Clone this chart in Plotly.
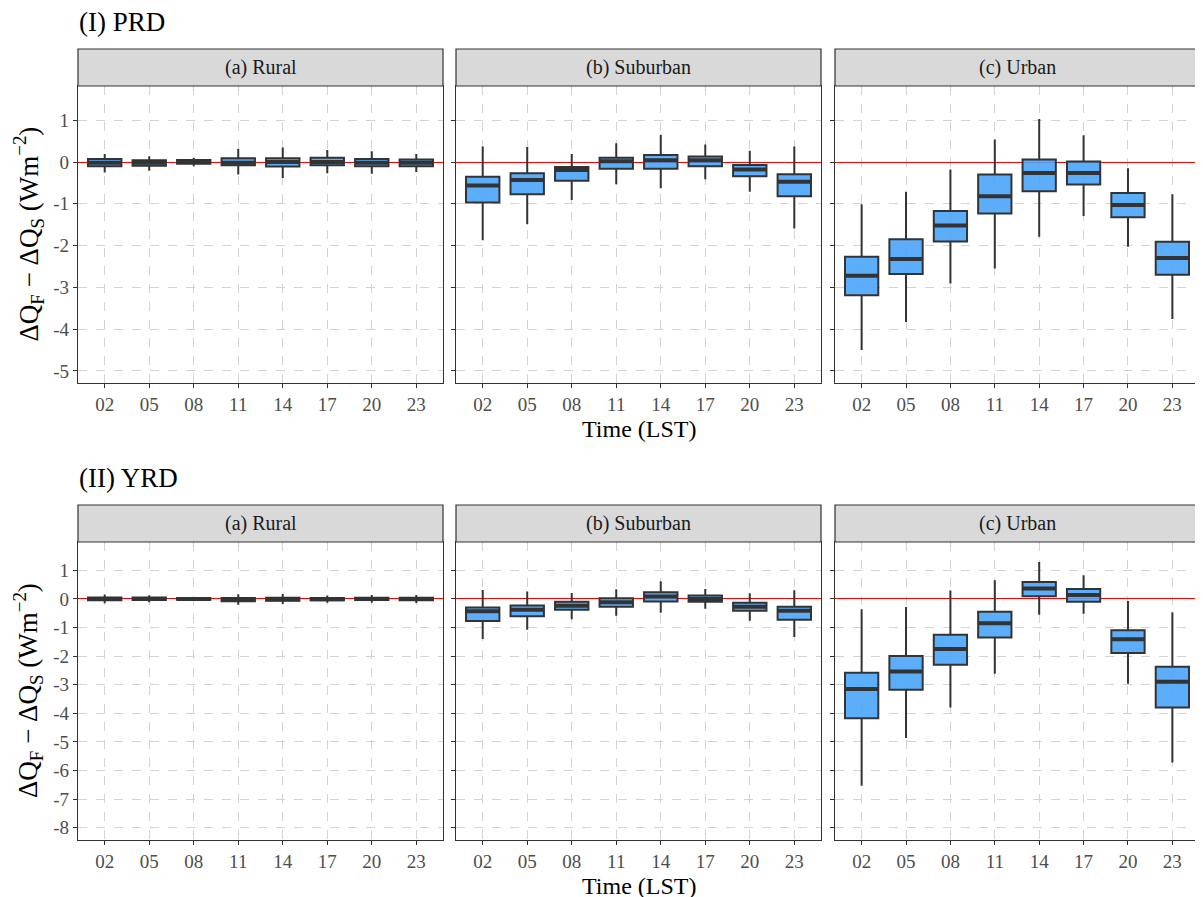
import plotly.graph_objects as go

hours = ["02", "05", "08", "11", "14", "17", "20", "23"]
xpos = list(range(len(hours)))
panel_titles = ["(a) Rural", "(b) Suburban", "(c) Urban"]
row_titles = ["(I) PRD", "(II) YRD"]
y_ticks_prd = [1, 0, -1, -2, -3, -4, -5]
y_ticks_yrd = [1, 0, -1, -2, -3, -4, -5, -6, -7, -8]

# PRD rural
prd_rural_low = [-0.25, -0.21, -0.10, -0.30, -0.38, -0.27, -0.28, -0.24]
prd_rural_q1 = [-0.10, -0.09, -0.04, -0.08, -0.11, -0.08, -0.10, -0.10]
prd_rural_med = [-0.02, -0.02, 0.01, -0.02, 0.00, 0.00, -0.02, -0.02]
prd_rural_q3 = [0.07, 0.04, 0.05, 0.09, 0.09, 0.10, 0.07, 0.06]
prd_rural_high = [0.19, 0.14, 0.10, 0.31, 0.35, 0.29, 0.26, 0.19]

# PRD suburban
prd_sub_low = [-1.87, -1.49, -0.91, -0.53, -0.63, -0.41, -0.71, -1.59]
prd_sub_q1 = [-0.97, -0.77, -0.45, -0.16, -0.16, -0.10, -0.34, -0.82]
prd_sub_med = [-0.56, -0.43, -0.19, 0.02, 0.04, 0.04, -0.18, -0.47]
prd_sub_q3 = [-0.35, -0.27, -0.12, 0.10, 0.17, 0.13, -0.07, -0.29]
prd_sub_high = [0.37, 0.36, 0.19, 0.45, 0.65, 0.42, 0.27, 0.37]

# PRD urban
prd_urb_low = [-4.50, -3.83, -2.91, -2.55, -1.79, -1.29, -2.03, -3.76]
prd_urb_q1 = [-3.19, -2.68, -1.90, -1.23, -0.70, -0.54, -1.32, -2.70]
prd_urb_med = [-2.72, -2.32, -1.52, -0.82, -0.26, -0.26, -1.03, -2.30]
prd_urb_q3 = [-2.27, -1.85, -1.17, -0.30, 0.06, 0.01, -0.74, -1.91]
prd_urb_high = [-1.01, -0.71, -0.18, 0.54, 1.03, 0.64, -0.15, -0.77]

# YRD rural
yrd_rural_low = [-0.15, -0.12, -0.05, -0.20, -0.18, -0.13, -0.13, -0.14]
yrd_rural_q1 = [-0.05, -0.04, -0.03, -0.08, -0.06, -0.05, -0.04, -0.05]
yrd_rural_med = [0.00, 0.00, 0.00, -0.02, -0.01, -0.01, 0.00, 0.00]
yrd_rural_q3 = [0.05, 0.05, 0.03, 0.03, 0.04, 0.03, 0.04, 0.04]
yrd_rural_high = [0.15, 0.13, 0.05, 0.16, 0.17, 0.12, 0.14, 0.14]

# YRD suburban
yrd_sub_low = [-1.40, -1.08, -0.71, -0.59, -0.48, -0.34, -0.76, -1.33]
yrd_sub_q1 = [-0.77, -0.61, -0.38, -0.27, -0.09, -0.10, -0.41, -0.73]
yrd_sub_med = [-0.43, -0.38, -0.24, -0.12, 0.08, 0.00, -0.27, -0.41]
yrd_sub_q3 = [-0.30, -0.23, -0.10, 0.02, 0.23, 0.12, -0.13, -0.27]
yrd_sub_high = [0.31, 0.26, 0.21, 0.34, 0.62, 0.35, 0.20, 0.30]

# YRD urban
yrd_urb_low = [-6.53, -4.86, -3.80, -2.62, -0.55, -0.52, -2.97, -5.72]
yrd_urb_q1 = [-4.17, -3.18, -2.30, -1.35, 0.09, -0.10, -1.89, -3.80]
yrd_urb_med = [-3.15, -2.54, -1.75, -0.85, 0.36, 0.14, -1.41, -2.90]
yrd_urb_q3 = [-2.58, -2.00, -1.25, -0.45, 0.59, 0.35, -1.10, -2.37]
yrd_urb_high = [-0.36, -0.28, 0.29, 0.65, 1.29, 0.83, -0.07, -0.47]

panels = [
    (prd_rural_low, prd_rural_q1, prd_rural_med, prd_rural_q3, prd_rural_high),
    (prd_sub_low, prd_sub_q1, prd_sub_med, prd_sub_q3, prd_sub_high),
    (prd_urb_low, prd_urb_q1, prd_urb_med, prd_urb_q3, prd_urb_high),
    (yrd_rural_low, yrd_rural_q1, yrd_rural_med, yrd_rural_q3, yrd_rural_high),
    (yrd_sub_low, yrd_sub_q1, yrd_sub_med, yrd_sub_q3, yrd_sub_high),
    (yrd_urb_low, yrd_urb_q1, yrd_urb_med, yrd_urb_q3, yrd_urb_high),
]

# page body has an 8px margin, so the figure is drawn offset by 8px
OFF = 8
W, H = 1203 - OFF, 897 - OFF
FONT = "Liberation Serif"
BOX_FILL = "rgba(75,165,250,0.9)"
DARK = "#333333"
BOX_W = 0.75

# layout geometry in screen pixels (converted to figure pixels below)
col_px = [(78, 443), (456, 821), (835, 1199)]
row_px = [(86, 383), (542, 840)]
strip_h = 37
y_ranges = [[-5.29, 1.82], [-8.43, 1.99]]


def fx(px):
    return (px - OFF) / W


def fy(py):
    return 1 - (py - OFF) / H


fig = go.Figure()
layout = dict(
    width=W, height=H,
    margin=dict(l=0, r=0, t=0, b=0),
    paper_bgcolor="white", plot_bgcolor="white",
    showlegend=False,
    font=dict(family=FONT, color=DARK),
)
shapes = []
annotations = []

for i, (low, q1, med, q3, high) in enumerate(panels):
    r, c = divmod(i, 3)
    n = i + 1
    xa = "x" if n == 1 else f"x{n}"
    ya = "y" if n == 1 else f"y{n}"
    x0p, x1p = col_px[c]
    y0p, y1p = row_px[r]
    ticks = y_ticks_prd if r == 0 else y_ticks_yrd

    layout[f"xaxis{'' if n == 1 else n}"] = dict(
        domain=[fx(x0p), min(fx(x1p), 1.0)], anchor=ya,
        range=[-0.6, 7.6], tickvals=xpos, ticktext=hours,
        showgrid=True, gridcolor="#D3D3D3", griddash="dash", gridwidth=1,
        showline=True, mirror=True, linecolor=DARK, linewidth=1.2,
        ticks="outside", ticklen=4, tickcolor=DARK, tickwidth=1.2,
        zeroline=False, tickfont=dict(family=FONT, size=19, color="#4D4D4D"),
    )
    # the red reference line at 0 is drawn as the y axis zero line
    layout[f"yaxis{'' if n == 1 else n}"] = dict(
        domain=[fy(y1p), fy(y0p)], anchor=xa,
        range=y_ranges[r], tickvals=ticks, ticktext=[str(t) for t in ticks],
        showgrid=True, gridcolor="#D3D3D3", griddash="dash", gridwidth=1,
        showline=True, mirror=True, linecolor=DARK, linewidth=1.2,
        ticks="outside", ticklen=4, tickcolor=DARK, tickwidth=1.2,
        zeroline=True, zerolinecolor="red", zerolinewidth=1.2,
        showticklabels=(c == 0),
        tickfont=dict(family=FONT, size=19, color="#4D4D4D"),
    )

    fig.add_trace(go.Box(
        x=xpos, q1=q1, median=med, q3=q3, lowerfence=low, upperfence=high,
        width=BOX_W, whiskerwidth=0, boxpoints=False,
        fillcolor=BOX_FILL, line=dict(color=DARK, width=2),
        xaxis=xa, yaxis=ya, hoverinfo="skip",
    ))
    # thicker median bar, as in ggplot
    mx, my = [], []
    for xi, m in zip(xpos, med):
        mx += [xi - BOX_W / 2, xi + BOX_W / 2, None]
        my += [m, m, None]
    fig.add_trace(go.Scatter(x=mx, y=my, mode="lines",
                             line=dict(color=DARK, width=4),
                             xaxis=xa, yaxis=ya, hoverinfo="skip"))

    # facet strip
    shapes.append(dict(type="rect", xref="paper", yref="paper",
                       x0=fx(x0p), x1=min(fx(x1p), 1.0),
                       y0=fy(y0p), y1=fy(y0p - strip_h),
                       fillcolor="#D9D9D9", line=dict(color=DARK, width=1.2),
                       layer="above"))
    annotations.append(dict(text=panel_titles[c], xref="paper", yref="paper",
                            x=fx((x0p + x1p) / 2), y=fy(y0p - strip_h / 2),
                            showarrow=False, xanchor="center", yanchor="middle",
                            font=dict(family=FONT, size=20, color="#1A1A1A")))

for r in range(2):
    y0p, y1p = row_px[r]
    # row title
    annotations.append(dict(text=row_titles[r], xref="paper", yref="paper",
                            x=fx(77), y=fy(y0p - strip_h - 27),
                            showarrow=False, xanchor="left", yanchor="middle",
                            font=dict(family=FONT, size=27, color="black")))
    # y axis title
    annotations.append(dict(
        text="ΔQ<sub>F</sub> − ΔQ<sub>S</sub> (Wm<sup>−2</sup>)",
        xref="paper", yref="paper", x=fx(28), y=fy((y0p + y1p) / 2),
        showarrow=False, textangle=-90, xanchor="center", yanchor="middle",
        font=dict(family=FONT, size=27, color="black")))
    # x axis title
    annotations.append(dict(text="Time (LST)", xref="paper", yref="paper",
                            x=fx((col_px[1][0] + col_px[1][1]) / 2),
                            y=fy(y1p + 46),
                            showarrow=False, xanchor="center", yanchor="middle",
                            font=dict(family=FONT, size=24, color="black")))

layout["shapes"] = shapes
layout["annotations"] = annotations
fig.update_layout(**layout)
fig.write_html("out.html")
